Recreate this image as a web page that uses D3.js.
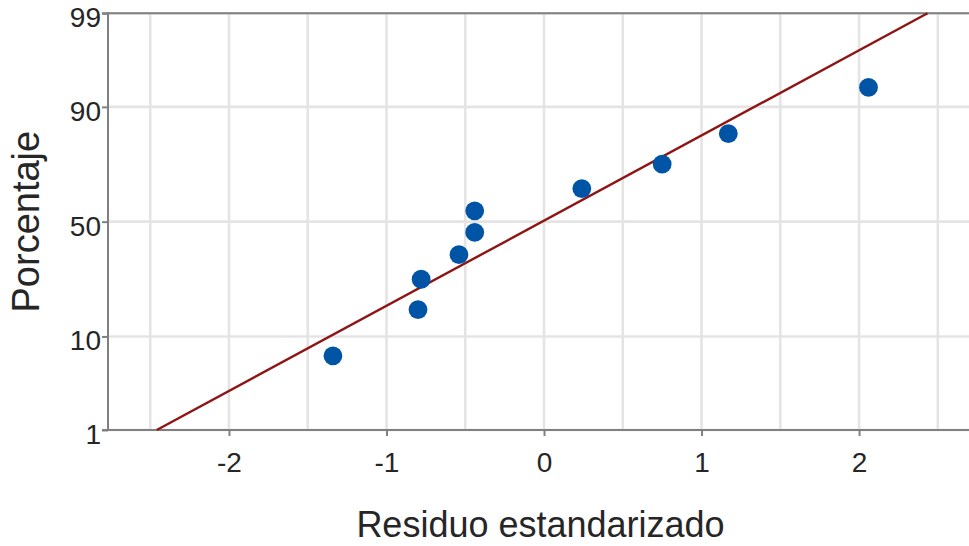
<!DOCTYPE html>
<html>
<head>
<meta charset="utf-8">
<script src="https://cdn.jsdelivr.net/npm/d3@7"></script>
<style>
  html, body { margin: 0; padding: 0; background: #fff; overflow: hidden; }
  svg { display: block; }
</style>
</head>
<body>
<svg id="chart" width="969" height="546"></svg>
<script>
// ---- data ----
const residuals = [-1.34, -0.80, -0.78, -0.54, -0.44, -0.44, 0.24, 0.75, 1.17, 2.06];
const percents  = [6.7, 16.3, 26.0, 35.6, 45.2, 54.8, 64.4, 74.0, 83.7, 93.3];
const xTicks = [-2, -1, 0, 1, 2];
const xGrid = [-2.5, -2, -1.5, -1, -0.5, 0, 0.5, 1, 1.5, 2, 2.5];
const yTicks = [1, 10, 50, 90, 99];
const yTickLabels = ["1", "10", "50", "90", "99"];
const xTitle = "Residuo estandarizado";
const yTitle = "Porcentaje";

// inverse standard normal CDF (Acklam)
function qnorm(p) {
  const a = [-3.969683028665376e+01, 2.209460984245205e+02, -2.759285104469687e+02, 1.383577518672690e+02, -3.066479806614716e+01, 2.506628277459239e+00];
  const b = [-5.447609879822406e+01, 1.615858368580409e+02, -1.556989798598866e+02, 6.680131188771972e+01, -1.328068155288572e+01];
  const c = [-7.784894002430293e-03, -3.223964580411365e-01, -2.400758277161838e+00, -2.549671667312391e+00, 4.374664141464968e+00, 2.938163982698783e+00];
  const d = [7.784695709041462e-03, 3.224671290700398e-01, 2.445134137142996e+00, 3.754408661907416e+00];
  const pl = 0.02425, ph = 1 - pl;
  let q, r;
  if (p < pl) {
    q = Math.sqrt(-2 * Math.log(p));
    return (((((c[0]*q+c[1])*q+c[2])*q+c[3])*q+c[4])*q+c[5]) / ((((d[0]*q+d[1])*q+d[2])*q+d[3])*q+1);
  } else if (p <= ph) {
    q = p - 0.5; r = q * q;
    return (((((a[0]*r+a[1])*r+a[2])*r+a[3])*r+a[4])*r+a[5])*q / (((((b[0]*r+b[1])*r+b[2])*r+b[3])*r+b[4])*r+1);
  } else {
    q = Math.sqrt(-2 * Math.log(1 - p));
    return -(((((c[0]*q+c[1])*q+c[2])*q+c[3])*q+c[4])*q+c[5]) / ((((d[0]*q+d[1])*q+d[2])*q+d[3])*q+1);
  }
}

const svg = d3.select("#chart");
const L = 108, R = 972, T = 13.3, B = 430;
const FONT = "'Liberation Sans', Arial, sans-serif";
const TEXT = "#262626";
const AXIS = "#808080";
const GRID = "#e4e4e4";

const x = d3.scaleLinear().domain([-2.768, 2.717]).range([L, R]);
const yz = d3.scaleLinear().domain([qnorm(0.01), qnorm(0.99)]).range([B, T]);
const yP = p => yz(qnorm(p / 100));

// gridlines
svg.append("g").selectAll("line").data(xGrid).join("line")
  .attr("x1", d => x(d)).attr("x2", d => x(d))
  .attr("y1", T).attr("y2", B)
  .attr("stroke", GRID).attr("stroke-width", 2.6);
svg.append("g").selectAll("line").data(yTicks).join("line")
  .attr("x1", L).attr("x2", R)
  .attr("y1", d => yP(d)).attr("y2", d => yP(d))
  .attr("stroke", GRID).attr("stroke-width", 2.6);

// axes
const xAxis = d3.axisBottom(x).tickValues(xTicks).tickSize(6).tickSizeOuter(0).tickPadding(16)
  .tickFormat(d => d3.format("d")(d).replace("\u2212", "-"));
const gx = svg.append("g").attr("transform", `translate(0,${B})`).call(xAxis);
gx.select(".domain").remove();
gx.selectAll(".tick line").attr("stroke", AXIS).attr("stroke-width", 2);
gx.selectAll(".tick text").attr("fill", TEXT).attr("font-size", 28).attr("font-family", FONT);

const yAxis = d3.axisLeft(yz).tickValues(yTicks.map(p => qnorm(p / 100))).tickSize(6).tickSizeOuter(0).tickPadding(1)
  .tickFormat((d, i) => yTickLabels[i]);
const gy = svg.append("g").attr("transform", `translate(${L},0)`).call(yAxis);
gy.select(".domain").remove();
gy.selectAll(".tick line").attr("stroke", AXIS).attr("stroke-width", 2);
gy.selectAll(".tick text").attr("fill", TEXT).attr("font-size", 28).attr("font-family", FONT).attr("dy", "0.48em");

// frame (left, top, bottom; right edge falls outside the picture)
svg.append("line").attr("x1", L).attr("x2", L).attr("y1", T - 1).attr("y2", B + 1)
  .attr("stroke", AXIS).attr("stroke-width", 2);
svg.append("line").attr("x1", L - 6).attr("x2", R).attr("y1", T).attr("y2", T)
  .attr("stroke", AXIS).attr("stroke-width", 2);
svg.append("line").attr("x1", L - 6).attr("x2", R).attr("y1", B).attr("y2", B)
  .attr("stroke", AXIS).attr("stroke-width", 2);

// fitted normal line from the data
const mean = d3.mean(residuals);
const sd = d3.deviation(residuals);
const zLine = [qnorm(0.01), qnorm(0.99)];
svg.append("path")
  .attr("d", d3.line().x(z => x(mean + sd * z)).y(z => yz(z))(zLine))
  .attr("stroke", "#8e1515").attr("stroke-width", 2.4).attr("fill", "none");

// points
svg.append("g").selectAll("circle").data(residuals).join("circle")
  .attr("cx", d => x(d))
  .attr("cy", (d, i) => yP(percents[i]))
  .attr("r", 9.4)
  .attr("fill", "#0054a6");

// titles
svg.append("text").attr("x", 540.5).attr("y", 537)
  .attr("text-anchor", "middle").attr("font-family", FONT).attr("font-size", 36)
  .attr("fill", TEXT).text(xTitle);
svg.append("text").attr("transform", `translate(39,${(T + B) / 2}) rotate(-90)`)
  .attr("text-anchor", "middle").attr("font-family", FONT).attr("font-size", 38)
  .attr("fill", TEXT).text(yTitle);
</script>
</body>
</html>
